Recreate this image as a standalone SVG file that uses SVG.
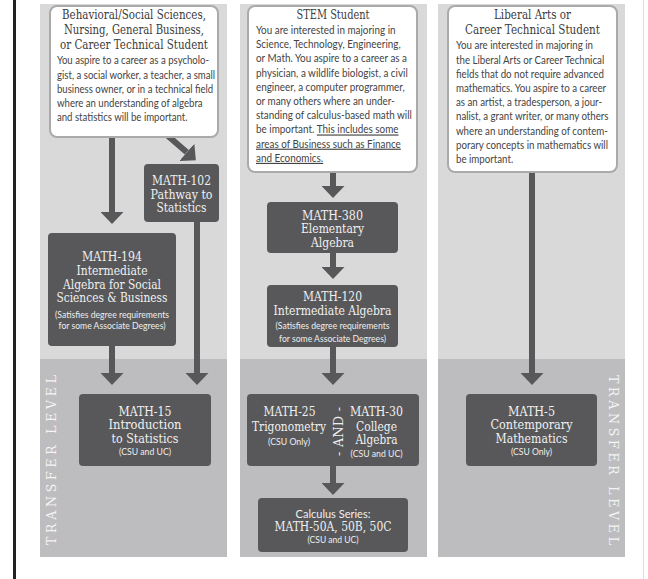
<svg xmlns="http://www.w3.org/2000/svg" width="648" height="579" viewBox="0 0 648 579">
<style>
.ctop{fill:#d9d9d9}
.cbot{fill:#bdbdbf}
.box{fill:#fff;stroke:#aaaaaa;stroke-width:2}
.node rect{fill:#58585a}
.ttl{font-family:"DejaVu Serif",serif;font-size:13.5px;fill:#3c3c3c;text-anchor:middle}
.body{font-family:Lato,"Open Sans",sans-serif;font-size:11.5px;fill:#444}
.slab{font-family:"DejaVu Serif",serif;font-size:12.5px;fill:#f0f0f0;text-anchor:middle}
.sm{font-family:Lato,"Open Sans",sans-serif;font-size:9px;fill:#eeeeee;text-anchor:middle}
.sans{font-family:Lato,"Open Sans",sans-serif;font-size:11px;fill:#f0f0f0;text-anchor:middle}
.tl{font-family:"DejaVu Serif",serif;font-size:12.5px;fill:#f4f4f4;text-anchor:middle}
.conn line{stroke:#58585a;stroke-width:6}
</style>
<defs>
<marker id="ah" viewBox="0 0 12 23" refX="0" refY="11.5" markerWidth="12" markerHeight="23" markerUnits="userSpaceOnUse" orient="auto">
<path d="M0,0 L12,11.5 L0,23 Z" fill="#58585a"/>
</marker>
</defs>
<rect width="648" height="579" fill="#fff"/>
<rect x="13" y="0" width="3" height="579" fill="#222"/>
<rect x="643" y="0" width="1" height="579" fill="#dddddd"/>

<g id="columns">
<rect class="ctop" x="40" y="4" width="187" height="355"/>
<rect class="cbot" x="40" y="359" width="187" height="198"/>
<rect class="ctop" x="240" y="4" width="187" height="355"/>
<rect class="cbot" x="240" y="359" width="187" height="198"/>
<rect class="ctop" x="438" y="4" width="187" height="355"/>
<rect class="cbot" x="438" y="359" width="187" height="198"/>
<text class="tl" transform="translate(56,460) rotate(-90)" textLength="170" lengthAdjust="spacing">TRANSFER LEVEL</text>
<text class="tl" transform="translate(609,460) rotate(90)" textLength="170" lengthAdjust="spacing">TRANSFER LEVEL</text>
</g>

<g class="conn" id="connectors">
<line x1="112" y1="137" x2="112" y2="212" marker-end="url(#ah)"/>
<line x1="168" y1="136" x2="186.8" y2="152.3" marker-end="url(#ah)"/>
<line x1="197" y1="222" x2="197" y2="373" marker-end="url(#ah)"/>
<line x1="112" y1="346" x2="112" y2="373" marker-end="url(#ah)"/>
<line x1="333" y1="172" x2="333" y2="186" marker-end="url(#ah)"/>
<line x1="333" y1="253" x2="333" y2="267" marker-end="url(#ah)"/>
<line x1="333" y1="347" x2="333" y2="373" marker-end="url(#ah)"/>
<line x1="333" y1="466" x2="333" y2="483" marker-end="url(#ah)"/>
<line x1="532" y1="173" x2="532" y2="373" marker-end="url(#ah)"/>
</g>

<g id="box-behavioral">
<rect class="box" x="50" y="6" width="168" height="131" rx="7"/>
<text class="ttl" x="134" y="19" textLength="144" lengthAdjust="spacingAndGlyphs">Behavioral/Social Sciences,</text>
<text class="ttl" x="134" y="34" textLength="140" lengthAdjust="spacingAndGlyphs">Nursing, General Business,</text>
<text class="ttl" x="134" y="49" textLength="148" lengthAdjust="spacingAndGlyphs">or Career Technical Student</text>
<g transform="translate(57,0) scale(0.835,1)">
<text class="body" x="0" y="64.5">You aspire to a career as a psycholo-</text>
<text class="body" x="0" y="78.7">gist, a social worker, a teacher, a small</text>
<text class="body" x="0" y="92.9">business owner, or in a technical field</text>
<text class="body" x="0" y="107.1">where an understanding of algebra</text>
<text class="body" x="0" y="121.3">and statistics will be important.</text>
</g>
</g>

<g id="box-stem">
<rect class="box" x="248" y="6" width="169" height="166" rx="7"/>
<text class="ttl" x="333" y="19" textLength="73" lengthAdjust="spacingAndGlyphs">STEM Student</text>
<g transform="translate(256,0) scale(0.86,1)">
<text class="body" x="0" y="34">You are interested in majoring in</text>
<text class="body" x="0" y="48.2">Science, Technology, Engineering,</text>
<text class="body" x="0" y="62.4">or Math. You aspire to a career as a</text>
<text class="body" x="0" y="76.6">physician, a wildlife biologist, a civil</text>
<text class="body" x="0" y="90.8">engineer, a computer programmer,</text>
<text class="body" x="0" y="105">or many others where an under-</text>
<text class="body" x="0" y="119.2">standing of calculus-based math will</text>
<text class="body" x="0" y="133.4">be important. <tspan text-decoration="underline">This includes some</tspan></text>
<text class="body" x="0" y="147.6" text-decoration="underline">areas of Business such as Finance</text>
<text class="body" x="0" y="161.8" text-decoration="underline">and Economics.</text>
</g>
</g>

<g id="box-liberal">
<rect class="box" x="448" y="6" width="169" height="166" rx="7"/>
<text class="ttl" x="532.5" y="19" textLength="77" lengthAdjust="spacingAndGlyphs">Liberal Arts or</text>
<text class="ttl" x="532.5" y="34" textLength="135" lengthAdjust="spacingAndGlyphs">Career Technical Student</text>
<g transform="translate(456,0) scale(0.845,1)">
<text class="body" x="0" y="49.5">You are interested in majoring in</text>
<text class="body" x="0" y="63.7">the Liberal Arts or Career Technical</text>
<text class="body" x="0" y="77.9">fields that do not require advanced</text>
<text class="body" x="0" y="92.1">mathematics. You aspire to a career</text>
<text class="body" x="0" y="106.3">as an artist, a tradesperson, a jour-</text>
<text class="body" x="0" y="120.5">nalist, a grant writer, or many others</text>
<text class="body" x="0" y="134.7">where an understanding of contem-</text>
<text class="body" x="0" y="148.9">porary concepts in mathematics will</text>
<text class="body" x="0" y="163.1">be important.</text>
</g>
</g>

<g id="math-102" class="node">
<rect x="144" y="164" width="75" height="58" rx="4"/>
<text class="slab" x="181.5" y="185" textLength="59" lengthAdjust="spacingAndGlyphs">MATH-102</text>
<text class="slab" x="181.5" y="198.5" textLength="62" lengthAdjust="spacingAndGlyphs">Pathway to</text>
<text class="slab" x="181.5" y="212" textLength="50" lengthAdjust="spacingAndGlyphs">Statistics</text>
</g>

<g id="math-194" class="node">
<rect x="48" y="233" width="128" height="113" rx="4"/>
<text class="slab" x="112" y="261" textLength="60" lengthAdjust="spacingAndGlyphs">MATH-194</text>
<text class="slab" x="112" y="274.5" textLength="71" lengthAdjust="spacingAndGlyphs">Intermediate</text>
<text class="slab" x="112" y="288.5" textLength="98" lengthAdjust="spacingAndGlyphs">Algebra for Social</text>
<text class="slab" x="112" y="302" textLength="111" lengthAdjust="spacingAndGlyphs">Sciences &amp; Business</text>
<text class="sm" x="112" y="317.5" textLength="114" lengthAdjust="spacingAndGlyphs">(Satisfies degree requirements</text>
<text class="sm" x="112" y="328.5" textLength="107" lengthAdjust="spacingAndGlyphs">for some Associate Degrees)</text>
</g>

<g id="math-15" class="node">
<rect x="79" y="394" width="132" height="72" rx="4"/>
<text class="slab" x="145" y="415.5" textLength="53" lengthAdjust="spacingAndGlyphs">MATH-15</text>
<text class="slab" x="145" y="429" textLength="73" lengthAdjust="spacingAndGlyphs">Introduction</text>
<text class="slab" x="145" y="442.5" textLength="67" lengthAdjust="spacingAndGlyphs">to Statistics</text>
<text class="sm" x="145" y="455" textLength="52" lengthAdjust="spacingAndGlyphs">(CSU and UC)</text>
</g>

<g id="math-380" class="node">
<rect x="267" y="202" width="131" height="51" rx="4"/>
<text class="slab" x="332.5" y="219.5" textLength="61" lengthAdjust="spacingAndGlyphs">MATH-380</text>
<text class="slab" x="332.5" y="233" textLength="63" lengthAdjust="spacingAndGlyphs">Elementary</text>
<text class="slab" x="332.5" y="246.5" textLength="43" lengthAdjust="spacingAndGlyphs">Algebra</text>
</g>

<g id="math-120" class="node">
<rect x="267" y="285" width="131" height="62" rx="4"/>
<text class="slab" x="332.5" y="301" textLength="59" lengthAdjust="spacingAndGlyphs">MATH-120</text>
<text class="slab" x="332.5" y="314.5" textLength="118" lengthAdjust="spacingAndGlyphs">Intermediate Algebra</text>
<text class="sm" x="332.5" y="329" textLength="114" lengthAdjust="spacingAndGlyphs">(Satisfies degree requirements</text>
<text class="sm" x="332.5" y="341.5" textLength="107" lengthAdjust="spacingAndGlyphs">for some Associate Degrees)</text>
</g>

<g id="math-25-30" class="node">
<rect x="247" y="394" width="172" height="72" rx="4"/>
<text class="slab" x="289.5" y="416" textLength="52" lengthAdjust="spacingAndGlyphs">MATH-25</text>
<text class="slab" x="289" y="430.5" textLength="74" lengthAdjust="spacingAndGlyphs">Trigonometry</text>
<text class="sm" x="289" y="445" textLength="42" lengthAdjust="spacingAndGlyphs">(CSU Only)</text>
<text class="slab" x="376.5" y="416" textLength="53" lengthAdjust="spacingAndGlyphs">MATH-30</text>
<text class="slab" x="376.5" y="430.5" textLength="41" lengthAdjust="spacingAndGlyphs">College</text>
<text class="slab" x="376.5" y="444" textLength="42" lengthAdjust="spacingAndGlyphs">Algebra</text>
<text class="sm" x="376.5" y="456.5" textLength="52" lengthAdjust="spacingAndGlyphs">(CSU and UC)</text>
<text class="slab" transform="translate(343,431.5) rotate(-90)" textLength="49" lengthAdjust="spacing">- AND -</text>
</g>

<g id="calculus" class="node">
<rect x="258" y="498" width="150" height="54" rx="4"/>
<text class="sans" x="333" y="518">Calculus Series:</text>
<text class="slab" x="333" y="531" textLength="117" lengthAdjust="spacingAndGlyphs">MATH-50A, 50B, 50C</text>
<text class="sm" x="333" y="542.5" textLength="51" lengthAdjust="spacingAndGlyphs">(CSU and UC)</text>
</g>

<g id="math-5" class="node">
<rect x="466" y="394" width="131" height="72" rx="4"/>
<text class="slab" x="531.5" y="415.5" textLength="47" lengthAdjust="spacingAndGlyphs">MATH-5</text>
<text class="slab" x="531.5" y="429" textLength="82" lengthAdjust="spacingAndGlyphs">Contemporary</text>
<text class="slab" x="531.5" y="442.5" textLength="72" lengthAdjust="spacingAndGlyphs">Mathematics</text>
<text class="sm" x="531.5" y="455" textLength="41" lengthAdjust="spacingAndGlyphs">(CSU Only)</text>
</g>
</svg>
